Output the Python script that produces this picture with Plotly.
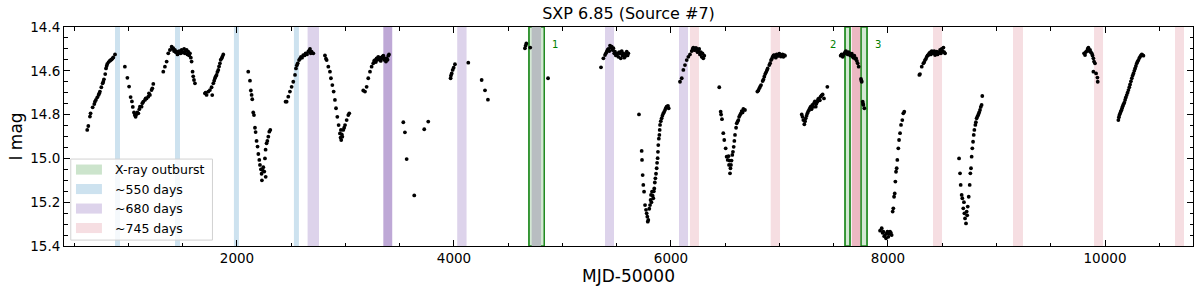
import plotly.graph_objects as go

# ---------------- data (MJD-50000, I mag) ----------------
seg_a = [(620, 14.870), (630, 14.852), (645, 14.809), (651, 14.794), (670, 14.767), (685, 14.752),
         (691, 14.741), (700, 14.733), (713, 14.721), (725, 14.710), (731, 14.703), (737, 14.695),
         (750, 14.675), (762, 14.657), (768, 14.650), (774, 14.639), (786, 14.615), (793, 14.589),
         (799, 14.578), (805, 14.569), (817, 14.560), (829, 14.554), (836, 14.551), (845, 14.548),
         (854, 14.543), (860, 14.539), (876, 14.525)]
seg_b = [(967, 14.581), (990, 14.632), (1006, 14.672), (1020, 14.720), (1032, 14.740), (1040, 14.765),
         (1051, 14.790), (1058, 14.802), (1066, 14.810), (1072, 14.800), (1081, 14.790), (1091, 14.794),
         (1100, 14.775), (1106, 14.764), (1121, 14.764), (1128, 14.748), (1137, 14.741), (1152, 14.733),
         (1159, 14.726), (1167, 14.726), (1183, 14.718), (1189, 14.703), (1198, 14.710), (1213, 14.688),
         (1220, 14.680), (1229, 14.660)]
seg_c = [(1321, 14.604), (1336, 14.581), (1352, 14.558), (1367, 14.520), (1382, 14.505), (1398, 14.490),
         (1405, 14.500), (1413, 14.497), (1420, 14.510), (1428, 14.505), (1436, 14.515), (1444, 14.513),
         (1452, 14.525), (1459, 14.520), (1467, 14.510), (1475, 14.513), (1482, 14.520), (1490, 14.505),
         (1498, 14.515), (1505, 14.517), (1513, 14.500), (1521, 14.520), (1528, 14.510), (1536, 14.505),
         (1544, 14.525), (1551, 14.513), (1559, 14.530), (1567, 14.520), (1575, 14.540), (1582, 14.558),
         (1591, 14.604), (1597, 14.625), (1604, 14.642), (1613, 14.657)]
seg_d = [(1705, 14.703), (1711, 14.700), (1720, 14.710), (1736, 14.695), (1751, 14.688), (1766, 14.675),
         (1772, 14.711), (1782, 14.657), (1790, 14.645), (1797, 14.634), (1805, 14.625), (1812, 14.619),
         (1820, 14.605), (1828, 14.596), (1835, 14.580), (1843, 14.566), (1850, 14.550), (1859, 14.543),
         (1866, 14.535), (1874, 14.525)]
seg_e = [(2104, 14.604), (2120, 14.645), (2128, 14.690), (2135, 14.710), (2141, 14.730), (2150, 14.790),
         (2157, 14.802), (2166, 14.860), (2172, 14.880), (2181, 14.920), (2190, 14.946), (2197, 14.980),
         (2206, 15.007), (2212, 15.030), (2221, 15.050), (2227, 15.070), (2230, 15.100), (2236, 15.053),
         (2243, 15.040), (2252, 15.060), (2258, 15.000), (2265, 15.084), (2264, 14.960), (2273, 14.931),
         (2280, 14.920), (2289, 14.901), (2298, 14.878), (2307, 14.870)]
seg_f = [(2448, 14.741), (2458, 14.741), (2473, 14.718), (2488, 14.695), (2504, 14.673), (2519, 14.650),
         (2535, 14.619), (2544, 14.589), (2552, 14.575), (2560, 14.566), (2572, 14.551), (2581, 14.545),
         (2590, 14.536), (2600, 14.540), (2611, 14.528), (2622, 14.530), (2633, 14.520), (2645, 14.525),
         (2657, 14.513), (2665, 14.508), (2673, 14.500), (2680, 14.520), (2688, 14.513), (2704, 14.520)]
seg_g = [(2811, 14.530), (2820, 14.545), (2827, 14.551), (2842, 14.581), (2857, 14.604), (2866, 14.634),
         (2879, 14.665), (2891, 14.695), (2903, 14.733), (2913, 14.771), (2925, 14.810), (2937, 14.848),
         (2949, 14.886), (2955, 14.905), (2958, 14.870), (2961, 14.916), (2966, 14.890), (2971, 14.901),
         (2980, 14.870), (2988, 14.860), (2996, 14.848), (3011, 14.825), (3026, 14.802), (3035, 14.794)]
seg_h = [(3164, 14.690), (3180, 14.695), (3195, 14.673), (3210, 14.634), (3226, 14.604), (3241, 14.581),
         (3256, 14.566), (3264, 14.555), (3272, 14.551), (3280, 14.560), (3287, 14.543), (3295, 14.550),
         (3302, 14.536), (3310, 14.545), (3318, 14.540), (3325, 14.555), (3333, 14.543), (3341, 14.535),
         (3349, 14.531), (3356, 14.550), (3364, 14.543), (3373, 14.558), (3380, 14.543), (3388, 14.550),
         (3395, 14.531), (3401, 14.525)]
seg_i = [(3533, 14.835), (3548, 14.881), (3564, 15.003), (3634, 15.169), (3726, 14.867), (3763, 14.832)]
seg_j = [(3969, 14.634), (3972, 14.622), (3979, 14.612), (3988, 14.596), (3997, 14.586), (4009, 14.570),
         (4132, 14.563), (4255, 14.642), (4286, 14.689), (4313, 14.732)]
seg_k = [(4654, 14.497), (4661, 14.485), (4667, 14.475), (4703, 14.494), (4867, 14.634)]
seg_l = [(5355, 14.584), (5377, 14.543), (5392, 14.528), (5400, 14.520), (5408, 14.513), (5415, 14.505),
         (5423, 14.500), (5432, 14.510), (5438, 14.485), (5446, 14.495), (5454, 14.490), (5462, 14.505),
         (5469, 14.497), (5477, 14.520), (5484, 14.513), (5492, 14.530), (5500, 14.528), (5508, 14.520),
         (5515, 14.536), (5523, 14.515), (5530, 14.520), (5537, 14.543), (5546, 14.510), (5553, 14.530),
         (5561, 14.520), (5569, 14.540), (5576, 14.536), (5584, 14.525), (5592, 14.513), (5600, 14.530),
         (5607, 14.520)]
seg_m = [(5705, 14.799), (5730, 14.966), (5733, 15.007), (5739, 15.076), (5745, 15.121), (5752, 15.152),
         (5761, 15.213), (5770, 15.235), (5776, 15.251), (5782, 15.266), (5786, 15.289), (5791, 15.281),
         (5800, 15.230), (5807, 15.213), (5812, 15.190), (5816, 15.167), (5820, 15.200), (5825, 15.152),
         (5831, 15.170), (5837, 15.182), (5842, 15.150), (5846, 15.137), (5851, 15.110), (5856, 15.091),
         (5862, 15.070), (5868, 15.045), (5872, 15.020), (5877, 14.999), (5880, 14.970), (5883, 14.939),
         (5888, 14.910), (5893, 14.893), (5896, 14.870), (5899, 14.847), (5906, 14.830), (5914, 14.817),
         (5921, 14.805), (5929, 14.795), (5937, 14.788), (5945, 14.779), (5952, 14.770), (5960, 14.764),
         (5966, 14.764), (5972, 14.760), (5979, 14.771)]
seg_n = [(6083, 14.650), (6099, 14.634), (6114, 14.596), (6129, 14.574), (6145, 14.551), (6160, 14.536),
         (6175, 14.525), (6191, 14.510), (6200, 14.500), (6206, 14.494), (6215, 14.505), (6222, 14.505),
         (6230, 14.495), (6237, 14.500), (6245, 14.515), (6252, 14.510), (6260, 14.500), (6267, 14.525),
         (6275, 14.515), (6283, 14.536), (6290, 14.520), (6298, 14.543), (6307, 14.531)]
seg_o = [(6445, 14.675), (6458, 14.787), (6462, 14.800), (6470, 14.821), (6482, 14.885), (6491, 14.916),
         (6504, 14.954), (6513, 14.992), (6523, 15.007), (6530, 14.990), (6535, 15.030), (6540, 15.010),
         (6544, 15.068), (6548, 15.045), (6553, 15.030), (6558, 15.010), (6565, 14.984), (6571, 14.970),
         (6578, 14.947), (6584, 14.920), (6590, 14.893), (6600, 14.860), (6606, 14.840), (6614, 14.832),
         (6621, 14.825), (6628, 14.810), (6636, 14.802), (6644, 14.795), (6652, 14.784), (6660, 14.790),
         (6667, 14.774), (6682, 14.779)]
seg_p = [(6796, 14.695), (6805, 14.690), (6814, 14.680), (6822, 14.672), (6830, 14.665), (6845, 14.647),
         (6852, 14.640), (6860, 14.627), (6868, 14.615), (6876, 14.607), (6884, 14.598), (6891, 14.589),
         (6906, 14.574), (6914, 14.565), (6922, 14.551), (6930, 14.545), (6937, 14.536), (6945, 14.530),
         (6952, 14.528), (6960, 14.535), (6966, 14.540), (6974, 14.525), (6982, 14.532), (6990, 14.531),
         (6998, 14.522), (7005, 14.525), (7013, 14.535), (7021, 14.531), (7028, 14.525), (7036, 14.536),
         (7044, 14.528), (7051, 14.531)]
seg_q = [(7205, 14.799), (7212, 14.810), (7220, 14.825), (7229, 14.844), (7236, 14.830), (7242, 14.817),
         (7250, 14.805), (7257, 14.794), (7265, 14.785), (7272, 14.779), (7280, 14.770), (7288, 14.764),
         (7295, 14.775), (7303, 14.756), (7310, 14.765), (7318, 14.748), (7326, 14.740), (7334, 14.764),
         (7340, 14.750), (7349, 14.741), (7356, 14.730), (7364, 14.726), (7372, 14.735), (7380, 14.718),
         (7388, 14.712), (7398, 14.708), (7410, 14.726), (7441, 14.673)]
seg_r = [(7564, 14.531), (7572, 14.525), (7583, 14.536), (7590, 14.528), (7598, 14.520), (7605, 14.515),
         (7613, 14.510), (7620, 14.520), (7629, 14.525), (7636, 14.515), (7644, 14.519), (7652, 14.530),
         (7659, 14.528), (7667, 14.522), (7675, 14.536), (7682, 14.540), (7690, 14.531), (7698, 14.545),
         (7706, 14.543), (7713, 14.555), (7721, 14.566), (7730, 14.581), (7751, 14.637), (7755, 14.645),
         (7758, 14.650), (7767, 14.741), (7770, 14.750), (7773, 14.756), (7782, 14.771)]
seg_s = [(7927, 15.330), (7942, 15.319), (7950, 15.340), (7957, 15.335), (7965, 15.355), (7973, 15.350),
         (7982, 15.365), (7988, 15.342), (7995, 15.335), (8003, 15.358), (8010, 15.345), (8019, 15.335),
         (8027, 15.340), (8034, 15.350), (8043, 15.243), (8049, 15.228), (8056, 15.175), (8062, 15.160),
         (8068, 15.106), (8074, 15.061), (8080, 15.045), (8086, 15.007), (8095, 14.954), (8102, 14.916),
         (8111, 14.885), (8120, 14.847), (8132, 14.825), (8141, 14.794), (8150, 14.787)]
seg_t = [(8289, 14.619), (8295, 14.615), (8311, 14.581), (8326, 14.566), (8334, 14.560), (8341, 14.551),
         (8350, 14.545), (8357, 14.536), (8365, 14.530), (8372, 14.528), (8380, 14.520), (8388, 14.516),
         (8395, 14.525), (8403, 14.510), (8410, 14.515), (8418, 14.520), (8426, 14.510), (8434, 14.528),
         (8441, 14.520), (8449, 14.513), (8457, 14.525), (8465, 14.520), (8472, 14.515), (8480, 14.505),
         (8488, 14.520), (8495, 14.500), (8503, 14.510), (8511, 14.494), (8518, 14.515), (8526, 14.520)]
seg_u = [(8655, 15.000), (8664, 15.068), (8670, 15.121), (8679, 15.167), (8685, 15.182), (8694, 15.228),
         (8700, 15.200), (8704, 15.251), (8710, 15.274), (8719, 15.297), (8725, 15.243), (8730, 15.260),
         (8735, 15.220), (8744, 15.175), (8753, 15.121), (8759, 15.068), (8765, 15.045), (8771, 14.992),
         (8777, 14.954), (8784, 14.924), (8790, 14.893), (8796, 14.870), (8805, 14.847), (8810, 14.835),
         (8817, 14.817), (8825, 14.808), (8833, 14.799), (8840, 14.790), (8848, 14.779), (8855, 14.765),
         (8863, 14.756), (8869, 14.715)]
seg_v = [(9807, 14.520), (9816, 14.528), (9822, 14.515), (9832, 14.510), (9840, 14.500), (9847, 14.494),
         (9855, 14.510), (9862, 14.505), (9870, 14.515), (9878, 14.520), (9885, 14.530), (9893, 14.543),
         (9899, 14.558), (9908, 14.566), (9893, 14.604), (9918, 14.612), (9930, 14.631), (9933, 14.650)]
seg_w = [(10123, 14.825), (10128, 14.812), (10133, 14.802), (10139, 14.795), (10145, 14.787),
         (10151, 14.780), (10157, 14.771), (10163, 14.762), (10170, 14.753), (10178, 14.745),
         (10185, 14.733), (10192, 14.722), (10200, 14.711), (10208, 14.700), (10216, 14.688),
         (10224, 14.675), (10231, 14.662), (10239, 14.648), (10247, 14.634), (10255, 14.622),
         (10262, 14.612), (10270, 14.600), (10277, 14.589), (10285, 14.578), (10293, 14.566),
         (10300, 14.558), (10308, 14.551), (10316, 14.542), (10323, 14.536), (10331, 14.530),
         (10339, 14.525), (10346, 14.528), (10354, 14.531)]

# shaded intervals (MJD-50000)
xray_bands = [(4691, 4833), (7604, 7650), (7751, 7807)]
xray_labels = ["1", "2", "3"]
xray_label_x = [4931, 7493, 7908]
xray_label_y = 14.482
blue_bands = [(876, 922), (1429, 1475), (1972, 2018), (2525, 2571)]
purple_bands = [(2651, 2756), (3349, 3431), (4030, 4116), (4716, 4802), (5392, 5475), (6074, 6157)]
pink_bands = [(6175, 6258), (6919, 7005), (7666, 7751), (8415, 8498), (9152, 9244), (9899, 9982),
              (10645, 10728)]
legend_labels = ["X-ray outburst", "~550 days", "~680 days", "~745 days"]

# ---------------- figure ----------------
segments = [seg_a, seg_b, seg_c, seg_d, seg_e, seg_f, seg_g, seg_h, seg_i, seg_j, seg_k, seg_l,
            seg_m, seg_n, seg_o, seg_p, seg_q, seg_r, seg_s, seg_t, seg_u, seg_v, seg_w]
mjd = [p[0] for s in segments for p in s]
imag = [p[1] for s in segments for p in s]

C_BLUE = "rgb(205,226,239)"
C_PURPLE = "rgb(221,211,235)"
C_PURPLE_DARK = "rgb(190,168,214)"
C_PINK = "rgb(246,222,226)"
C_PINK_DARK = "rgb(236,184,194)"
C_GRAY = "rgb(184,189,193)"
C_GREEN_FILL = "rgb(212,232,212)"
C_GREEN_LINE = "rgb(34,139,34)"


def overlaps(a, b):
    return a[0] < b[1] and b[0] < a[1]


shapes = []
for b in xray_bands:
    shapes.append(dict(type="rect", xref="x", yref="paper", x0=b[0], x1=b[1], y0=0, y1=1,
                       fillcolor=C_GREEN_FILL, line=dict(color=C_GREEN_LINE, width=1.3), layer="below"))
for b in blue_bands:
    shapes.append(dict(type="rect", xref="x", yref="paper", x0=b[0], x1=b[1], y0=0, y1=1,
                       fillcolor=C_BLUE, line=dict(width=0), layer="below"))
for i, b in enumerate(purple_bands):
    col = C_PURPLE
    if any(overlaps(b, x) for x in xray_bands):
        col = C_GRAY
    elif i == 1:
        col = C_PURPLE_DARK
    shapes.append(dict(type="rect", xref="x", yref="paper", x0=b[0], x1=b[1], y0=0, y1=1,
                       fillcolor=col, line=dict(width=0), layer="below"))
for b in pink_bands:
    col = C_PINK
    if any(abs(b[1] - x[0]) < 1 or abs(b[0] - x[1]) < 20 for x in xray_bands):
        col = C_PINK_DARK
    shapes.append(dict(type="rect", xref="x", yref="paper", x0=b[0], x1=b[1], y0=0, y1=1,
                       fillcolor=col, line=dict(width=0), layer="below"))
# redraw x-ray edge lines on top of the neighbouring bands
for b in xray_bands:
    for xv in b:
        shapes.append(dict(type="line", xref="x", yref="paper", x0=xv, x1=xv, y0=0, y1=1,
                           line=dict(color=C_GREEN_LINE, width=1.3), layer="below"))

# manual legend (matplotlib-style box)
shapes.append(dict(type="rect", xref="paper", yref="paper", x0=0.006, x1=0.1315, y0=0.027, y1=0.397,
                   fillcolor="rgba(255,255,255,0.8)", line=dict(color="rgb(210,210,210)", width=1),
                   layer="above"))
legend_cols = ["rgb(204,228,204)", C_BLUE, C_PURPLE, C_PINK]
row_y = [0.349, 0.260, 0.171, 0.082]
annotations = []
for lab, col, yy in zip(legend_labels, legend_cols, row_y):
    shapes.append(dict(type="rect", xref="paper", yref="paper", x0=0.0106, x1=0.0336,
                       y0=yy - 0.023, y1=yy + 0.023, fillcolor=col, line=dict(width=0), layer="above"))
    annotations.append(dict(text=lab, xref="paper", yref="paper", x=0.0434, y=yy, xanchor="left",
                            yanchor="middle", showarrow=False,
                            font=dict(family="DejaVu Sans", size=12.5, color="black")))
for lab, xx in zip(xray_labels, xray_label_x):
    annotations.append(dict(text=lab, x=xx, y=xray_label_y, xref="x", yref="y", showarrow=False,
                            xanchor="center", yanchor="middle",
                            font=dict(family="DejaVu Sans", size=10, color="green")))

fig = go.Figure()
fig.add_trace(go.Scatter(x=mjd, y=imag, mode="markers",
                         marker=dict(color="black", size=3.8, line=dict(width=0)),
                         showlegend=False, hoverinfo="x+y"))

axis_common = dict(showline=True, linecolor="black", linewidth=1, mirror="allticks",
                   ticks="inside", ticklen=6, tickwidth=1, tickcolor="black",
                   showgrid=False, zeroline=False, automargin=False,
                   tickfont=dict(family="DejaVu Sans", size=13.5, color="black"))

fig.update_layout(
    width=1200, height=293,
    margin=dict(l=64, r=7, t=27, b=47),
    paper_bgcolor="white", plot_bgcolor="white",
    shapes=shapes, annotations=annotations,
    title=dict(text="SXP 6.85 (Source #7)", x=0.5, xref="paper", xanchor="center",
               y=0.955, yref="container", yanchor="middle",
               font=dict(family="DejaVu Sans", size=16, color="black")),
    xaxis=dict(range=[406, 10811], tick0=0, dtick=2000, tickformat="d",
               minor=dict(dtick=500, ticklen=3.5, ticks="inside", tickcolor="black", tickwidth=1),
               title=dict(text="MJD-50000", standoff=4,
                          font=dict(family="DejaVu Sans", size=17, color="black")),
               **axis_common),
    yaxis=dict(range=[15.4, 14.4], tick0=14.4, dtick=0.2, tickformat=".1f",
               minor=dict(dtick=0.05, ticklen=3.5, ticks="inside", tickcolor="black", tickwidth=1),
               title=dict(text="I mag", standoff=3,
                          font=dict(family="DejaVu Sans", size=17, color="black")),
               **axis_common),
    showlegend=False,
)

fig.write_html("out.html", config={"displayModeBar": False},
               post_script="document.body.style.margin='0';document.body.style.overflow='hidden';")
